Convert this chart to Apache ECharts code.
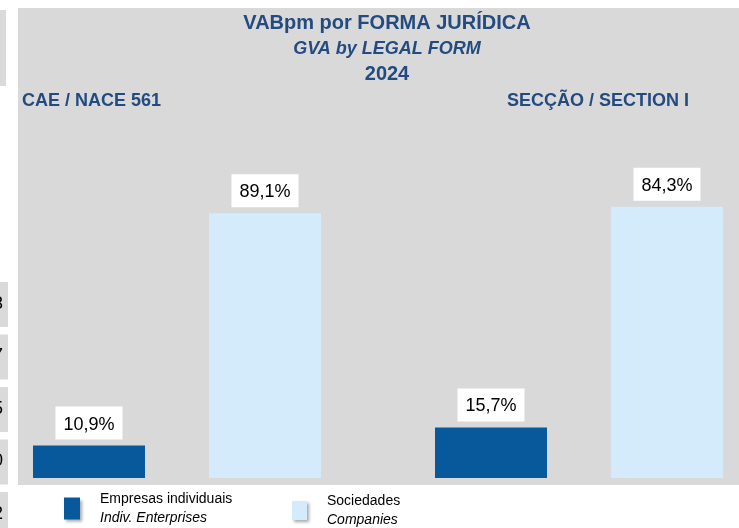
<!DOCTYPE html>
<html>
<head>
<meta charset="utf-8">
<script src="https://cdn.jsdelivr.net/npm/echarts@6/dist/echarts.min.js"></script>
<style>
  html, body { margin: 0; padding: 0; background: #fff; }
  #chart { width: 739px; height: 528px; }
</style>
</head>
<body>
<div id="chart"></div>
<script>
// VABpm por forma jurídica, 2024
var groups = ['CAE / NACE 561', 'SECÇÃO / SECTION I'];
var legalForms = ['Empresas individuais', 'Sociedades'];
var legalFormsEn = ['Indiv. Enterprises', 'Companies'];
var nace561 = [10.9, 89.1];
var sectionI = [15.7, 84.3];
var groupValues = [nace561, sectionI];
var yMax = [110.4, 101.9];
var leftDigits = ['3', '7', '5', '0', '2'];

var chart = echarts.init(document.getElementById('chart'));

var colors = ['#07599b', '#d3ebfa'];
var titleColor = '#234b80';
var font = 'Liberation Sans, Arial, sans-serif';

var grids = [], xAxes = [], yAxes = [], series = [];
groupValues.forEach(function (vals, g) {
    // category points sit on the grid edges (boundaryGap false)
    grids.push(g === 0
        ? { left: 89, right: 474, top: 150, bottom: 50 }
        : { left: 491, right: 72, top: 150, bottom: 50 });
    xAxes.push({
        type: 'category', gridIndex: g, data: legalForms, boundaryGap: false,
        axisLine: { show: false }, axisTick: { show: false }, axisLabel: { show: false }
    });
    yAxes.push({
        type: 'value', gridIndex: g, min: 0, max: yMax[g],
        axisLine: { show: false }, axisTick: { show: false },
        axisLabel: { show: false }, splitLine: { show: false }
    });
    legalForms.forEach(function (name, f) {
        series.push({
            name: name,
            type: 'bar',
            xAxisIndex: g,
            yAxisIndex: g,
            stack: 'g' + g,
            barWidth: 112,
            clip: false,
            itemStyle: { color: colors[f] },
            label: {
                show: true,
                position: 'top',
                distance: 6,
                backgroundColor: '#fff',
                padding: [9, 8, 6, 8],
                color: '#000',
                fontFamily: font,
                fontSize: 18,
                formatter: function (p) {
                    return p.value.toFixed(1).replace('.', ',') + '%';
                }
            },
            data: legalForms.map(function (_, i) { return i === f ? vals[f] : '-'; })
        });
    });
});

// small cut-off boxes at the left edge
var sideItems = [
    { type: 'rect', shape: { x: 0, y: 10, width: 6, height: 76 }, style: { fill: '#dadada' } }
];
leftDigits.forEach(function (d, i) {
    var top = 282 + i * 52.5;
    sideItems.push({ type: 'rect', shape: { x: 0, y: top, width: 8, height: 45 }, style: { fill: '#dadada' } });
    sideItems.push({
        type: 'text', x: 3, y: top + 22,
        style: { text: d, fill: '#000', font: '18px ' + font, textAlign: 'right', textVerticalAlign: 'middle' }
    });
});

var legendBase = {
    orient: 'horizontal',
    padding: 0,
    icon: 'rect',
    itemStyle: { shadowBlur: 3, shadowColor: 'rgba(0,0,0,0.35)', shadowOffsetX: 2, shadowOffsetY: 2 },
    textStyle: {
        padding: [0, 0, 0, 15],
        rich: {
            a: { fontFamily: font, fontSize: 14, color: '#000', lineHeight: 19 },
            b: { fontFamily: font, fontSize: 14, fontStyle: 'italic', color: '#000', lineHeight: 19 }
        }
    },
    formatter: function (name) {
        return '{a|' + name + '}\n{b|' + legalFormsEn[legalForms.indexOf(name)] + '}';
    }
};

var titleText = { fontFamily: font, fontWeight: 'bold', color: titleColor };

var option = {
    backgroundColor: '#fff',
    animation: false,
    graphic: [
        { type: 'rect', z: -10, shape: { x: 18, y: 8, width: 721, height: 477 }, style: { fill: '#d9d9d9' } }
    ].concat(sideItems),
    title: [
        { text: 'VABpm por FORMA JURÍDICA', left: 387, top: 13, textAlign: 'center', padding: 0,
          textStyle: echarts.util.merge({ fontSize: 20 }, titleText) },
        { text: 'GVA by LEGAL FORM', left: 387, top: 40, textAlign: 'center', padding: 0,
          textStyle: echarts.util.merge({ fontSize: 18, fontStyle: 'italic' }, titleText) },
        { text: '2024', left: 387, top: 64, textAlign: 'center', padding: 0,
          textStyle: echarts.util.merge({ fontSize: 20 }, titleText) },
        { text: groups[0], left: 22, top: 92, padding: 0,
          textStyle: echarts.util.merge({ fontSize: 18 }, titleText) },
        { text: groups[1], left: 507, top: 92, padding: 0,
          textStyle: echarts.util.merge({ fontSize: 18 }, titleText) }
    ],
    legend: [
        echarts.util.merge({ data: [legalForms[0]], left: 64, top: 492, itemWidth: 16, itemHeight: 22 }, legendBase, false),
        echarts.util.merge({ data: [legalForms[1]], left: 292, top: 494, itemWidth: 15, itemHeight: 19 }, legendBase, false)
    ],
    grid: grids,
    xAxis: xAxes,
    yAxis: yAxes,
    series: series
};

chart.setOption(option);
</script>
</body>
</html>
